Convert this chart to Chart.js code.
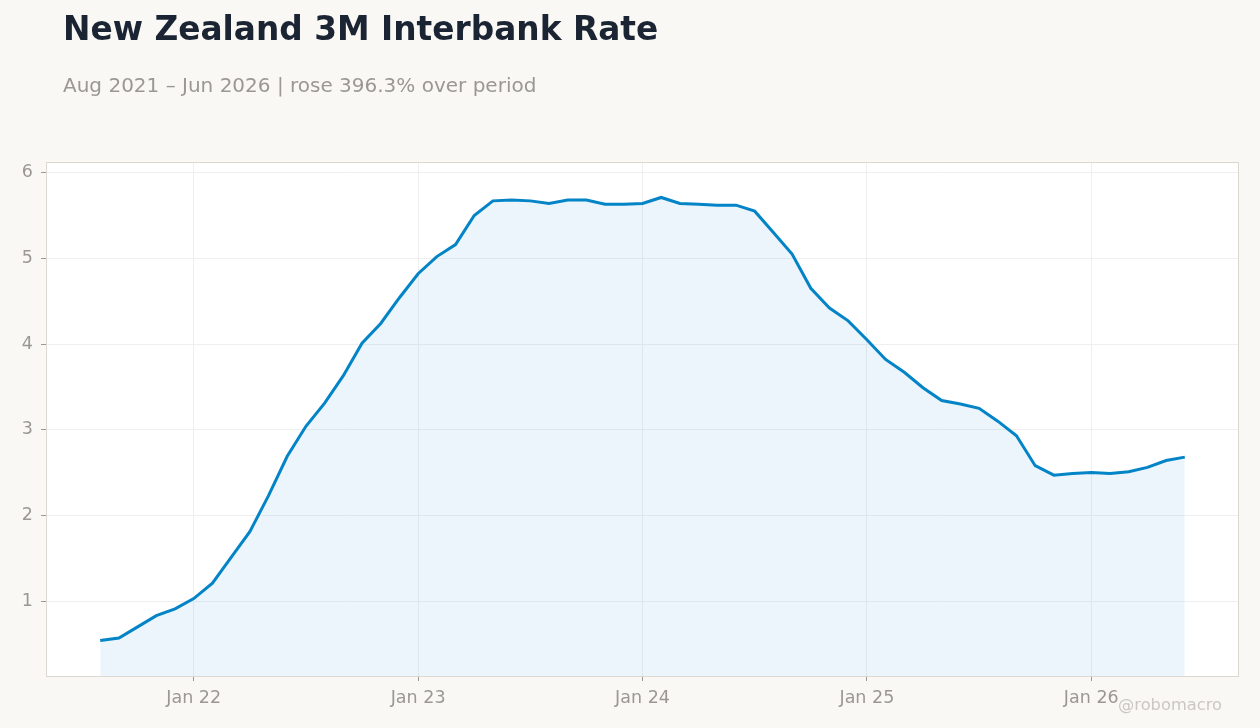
<!DOCTYPE html>
<html>
<head>
<meta charset="utf-8">
<script src="https://cdn.jsdelivr.net/npm/chart.js@4.4.1/dist/chart.umd.min.js"></script>
<style>
  html, body { margin: 0; padding: 0; background: #f9f8f5; width: 1260px; height: 728px; overflow: hidden; font-family: 'DejaVu Sans', sans-serif; }
  #title { position: absolute; left: 63px; top: 13px; font-size: 32.8px; line-height: 33px; font-weight: bold; color: #1b2433; white-space: nowrap; }
  #subtitle { position: absolute; left: 63px; top: 75px; font-size: 20px; line-height: 20px; color: #9b9893; white-space: nowrap; }
  #wm { position: absolute; right: 38px; top: 697px; font-size: 16.3px; line-height: 16px; color: #cbc8c3; white-space: nowrap; }
  #wrap { position: absolute; left: 0; top: 0; width: 1260px; height: 728px; }
</style>
</head>
<body>
<div id="wrap"><canvas id="c" width="1260" height="728"></canvas></div>
<div id="title">New Zealand 3M Interbank Rate</div>
<div id="subtitle">Aug 2021 – Jun 2026 | rose 396.3% over period</div>
<div id="wm">@robomacro</div>
<script>
const months = [
  '2021-08','2021-09','2021-10','2021-11','2021-12',
  '2022-01','2022-02','2022-03','2022-04','2022-05','2022-06','2022-07','2022-08','2022-09','2022-10','2022-11','2022-12',
  '2023-01','2023-02','2023-03','2023-04','2023-05','2023-06','2023-07','2023-08','2023-09','2023-10','2023-11','2023-12',
  '2024-01','2024-02','2024-03','2024-04','2024-05','2024-06','2024-07','2024-08','2024-09','2024-10','2024-11','2024-12',
  '2025-01','2025-02','2025-03','2025-04','2025-05','2025-06','2025-07','2025-08','2025-09','2025-10','2025-11','2025-12',
  '2026-01','2026-02','2026-03','2026-04','2026-05','2026-06'
];
const rates = [
  0.54, 0.57, 0.70, 0.83, 0.91,
  1.03, 1.21, 1.51, 1.81, 2.23, 2.69, 3.04, 3.31, 3.63, 4.01, 4.24, 4.54,
  4.82, 5.02, 5.16, 5.50, 5.67, 5.68, 5.67, 5.64, 5.68, 5.68, 5.63, 5.63,
  5.64, 5.71, 5.64, 5.63, 5.62, 5.62, 5.55, 5.30, 5.05, 4.65, 4.42, 4.27,
  4.05, 3.82, 3.67, 3.49, 3.34, 3.30, 3.25, 3.10, 2.93, 2.58, 2.47, 2.49,
  2.50, 2.49, 2.51, 2.56, 2.64, 2.68
];
const yTicks = [1, 2, 3, 4, 5, 6];
const xTickMonths = ['2022-01','2023-01','2024-01','2025-01','2026-01'];
const xTickLabels = ['Jan 22','Jan 23','Jan 24','Jan 25','Jan 26'];

const points = rates.map((v, i) => ({ x: i, y: v }));
const n = months.length;
const xPad = (n - 1) * 0.05;
const yMinData = Math.min(...rates), yMaxData = Math.max(...rates);
const yPad = (yMaxData - yMinData) * 0.08;

const frame = {
  id: 'frame',
  beforeDraw(chart) {
    const a = chart.chartArea, ctx = chart.ctx;
    ctx.save();
    ctx.fillStyle = '#ffffff';
    ctx.fillRect(a.left, a.top, a.right - a.left, a.bottom - a.top);
    ctx.restore();
  },
  afterDraw(chart) {
    const a = chart.chartArea, ctx = chart.ctx;
    ctx.save();
    ctx.strokeStyle = '#dcd7cf';
    ctx.lineWidth = 1;
    ctx.strokeRect(a.left + 0.5, a.top + 0.5, a.right - a.left - 1, a.bottom - a.top);
    ctx.restore();
  }
};

new Chart(document.getElementById('c'), {
  type: 'line',
  data: {
    datasets: [{
      data: points,
      borderColor: '#0284c7',
      backgroundColor: 'rgba(2,132,199,0.08)',
      borderWidth: 3,
      fill: 'start',
      tension: 0,
      pointRadius: 0,
      pointHoverRadius: 0
    }]
  },
  options: {
    responsive: false,
    animation: false,
    devicePixelRatio: 1,
    layout: { padding: { left: 0, top: 162, right: 21, bottom: 0 } },
    plugins: { legend: { display: false }, tooltip: { enabled: false }, title: { display: false } },
    scales: {
      x: {
        type: 'linear',
        min: -xPad,
        max: (n - 1) + xPad,
        afterBuildTicks(scale) {
          scale.ticks = xTickMonths.map(m => ({ value: months.indexOf(m) }));
        },
        afterFit(scale) { scale.height = 52; },
        ticks: {
          autoSkip: false,
          maxRotation: 0,
          padding: 7,
          color: '#9b9893',
          font: { family: 'DejaVu Sans', size: 17.5 },
          callback(value) {
            const k = xTickMonths.indexOf(months[value]);
            return k >= 0 ? xTickLabels[k] : '';
          }
        },
        grid: { color: '#efefef', tickColor: '#9b9893', tickLength: 5, drawTicks: true },
        border: { display: false }
      },
      y: {
        min: yMinData - yPad,
        max: yMaxData + yPad,
        afterBuildTicks(scale) {
          scale.ticks = yTicks.map(v => ({ value: v }));
        },
        afterFit(scale) { scale.width = 46; },
        ticks: {
          padding: 8,
          color: '#9b9893',
          font: { family: 'DejaVu Sans', size: 17.5 },
          callback(value) { return String(value); }
        },
        grid: { color: '#efefef', tickColor: '#9b9893', tickLength: 5, drawTicks: true },
        border: { display: false }
      }
    }
  },
  plugins: [frame]
});
</script>
</body>
</html>
